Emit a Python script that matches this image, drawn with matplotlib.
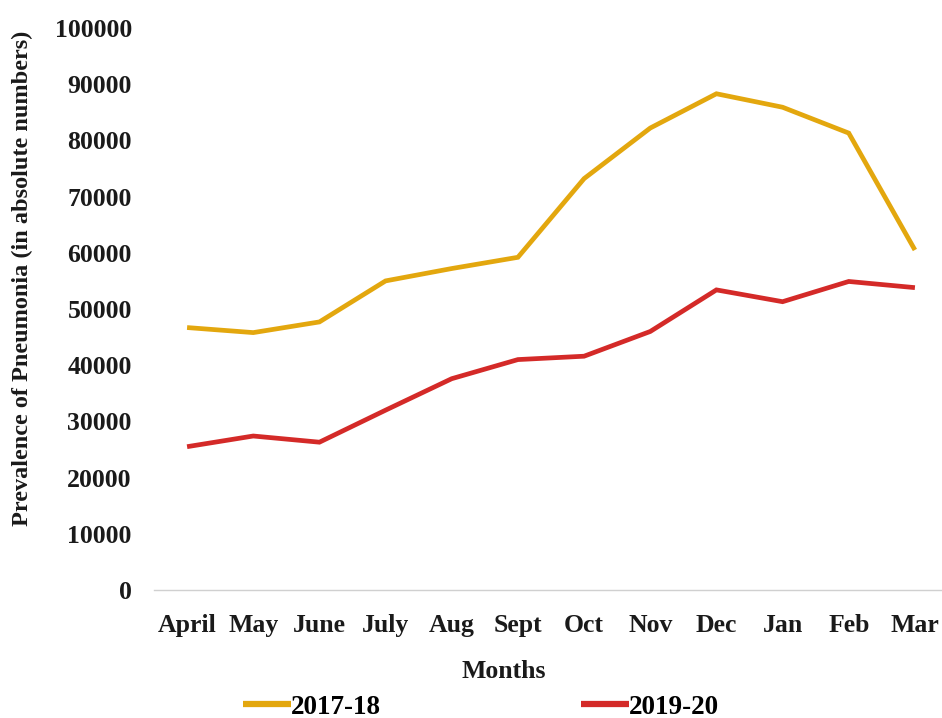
import matplotlib
matplotlib.use("Agg")
import matplotlib.pyplot as plt
from matplotlib.lines import Line2D

months = ["April", "May", "June", "July", "Aug", "Sept", "Oct", "Nov", "Dec", "Jan", "Feb", "Mar"]
cases_2017_18 = [46700, 45800, 47700, 55000, 57200, 59200, 73200, 82200, 88300, 85900, 81300, 60500]
cases_2019_20 = [25500, 27400, 26300, 32000, 37600, 41000, 41600, 46000, 53400, 51300, 54900, 53800]
y_ticks = list(range(0, 100001, 10000))

gold = "#E3A70E"
red = "#D42A28"
ink = "#1a1a1a"
fs_tick = 18.5
fs_ylabel = 17.5
fs_legend = 19.5

plt.rcParams["font.family"] = ["Liberation Serif", "DejaVu Serif"]
plt.rcParams["font.weight"] = "bold"

W, H = 942, 718
fig = plt.figure(figsize=(W / 100, H / 100), dpi=100)
ax = fig.add_axes([154 / W, 1 - 590 / H, (948 - 154) / W, (590 - 28) / H])

x = list(range(len(months)))
ax.plot(x, cases_2017_18, color=gold, lw=3.4, solid_capstyle="butt", solid_joinstyle="miter")
ax.plot(x, cases_2019_20, color=red, lw=3.4, solid_capstyle="butt", solid_joinstyle="miter")

ax.set_xlim(-0.5, len(months) - 0.5)
ax.set_ylim(0, 100000)
ax.set_yticks(y_ticks)
ax.set_yticklabels([str(v) for v in y_ticks], fontsize=fs_tick, fontweight="bold", color=ink)
ax.set_xticks(x)
ax.set_xticklabels(months, fontsize=fs_tick, fontweight="bold", color=ink)
ax.tick_params(axis="y", length=0, pad=16)
ax.tick_params(axis="x", length=0, pad=17)

for side in ["top", "right", "left"]:
    ax.spines[side].set_visible(False)
ax.spines["bottom"].set_color("#d0d0d0")
ax.spines["bottom"].set_linewidth(1.0)

fig.text(504 / W, 1 - 671 / H, "Months", ha="center", va="center",
         fontsize=fs_tick, fontweight="bold", color=ink)
fig.text(22 / W, 1 - 278 / H, "Prevalence of Pneumonia (in absolute numbers)",
         rotation=90, ha="center", va="center", fontsize=fs_ylabel, fontweight="bold", color=ink)

handles = [Line2D([], [], color=gold, lw=4.5, solid_capstyle="butt"),
           Line2D([], [], color=red, lw=4.5, solid_capstyle="butt")]
fig.legend(handles, ["2017-18", "2019-20"], loc="center", bbox_to_anchor=(481 / W, 1 - 707 / H),
           ncol=2, frameon=False, handlelength=1.75, handletextpad=0.0, borderpad=0.0,
           columnspacing=7.4, prop={"weight": "bold", "size": fs_legend})

fig.savefig("out.png", dpi=100, facecolor="white")
